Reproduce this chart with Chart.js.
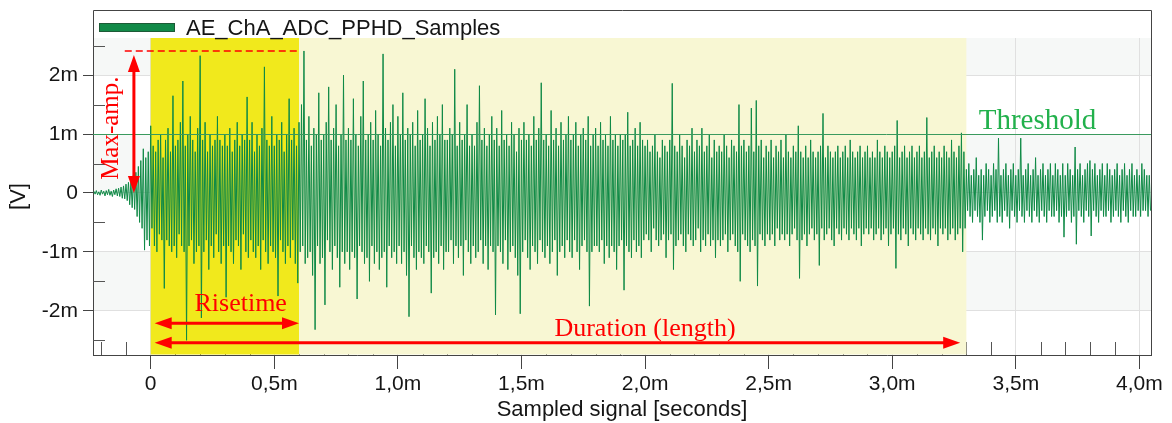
<!DOCTYPE html>
<html>
<head>
<meta charset="utf-8">
<script src="https://cdn.jsdelivr.net/npm/chart.js@4.4.1/dist/chart.umd.min.js"></script>
<style>
  html, body { margin: 0; padding: 0; background: #fff; }
</style>
</head>
<body>
<canvas id="chart" width="1172" height="423"></canvas>
<script>
// AE hit on channel A, values in mV, one sample every 0.005 ms
const sampleStepMs = 0.005;
const startMs = -0.23;

// -0.230 .. -0.005 ms
const preTrigger = [
  0.03,-0.02,0.04,-0.03,0.02,-0.04,0.05,-0.02,0.03,-0.05,0.04,-0.03,0.06,-0.04,0.03,-0.06,0.05,-0.03,0.07,-0.05,
  0.08,-0.06,0.1,-0.09,0.12,-0.1,0.15,-0.13,0.18,-0.2,0.22,-0.25,0.3,-0.28,0.35,-0.4,0.45,-0.5,0.55,-0.6,
  0.75,-0.97,0.6,-0.8,0.7,-0.9];
// 0.000 .. 0.595 ms
const riseTime = [
  1.14,-0.6,0.8,-0.9,0.7,-1.0,0.9,-0.7,1.0,-0.8,0.6,-1.62,0.9,-0.8,1.1,-0.9,0.7,-1.0,1.65,-0.9,
  0.8,-1.1,0.9,-0.7,1.2,-0.9,1.9,-1.0,0.8,-2.5,1.0,-0.9,1.3,-0.8,0.9,-1.2,0.7,-1.0,1.1,-0.9,
  2.33,-2.12,0.9,-1.0,1.2,-0.8,0.7,-1.3,1.0,-0.9,0.8,-1.1,0.9,-0.7,1.3,-1.0,0.9,-1.2,0.8,-0.9,
  1.0,-1.77,0.8,-0.9,1.1,-1.0,0.7,-1.2,0.9,-0.8,1.2,-0.9,0.8,-1.3,1.0,-0.7,0.9,-1.0,1.63,-1.1,
  0.9,-0.8,1.2,-1.0,0.7,-1.1,1.0,-0.9,0.8,-1.3,1.1,-0.8,2.14,-1.0,0.9,-1.2,0.8,-0.9,1.3,-1.0,
  0.8,-1.1,1.0,-1.75,0.9,-0.8,1.2,-1.0,0.7,-1.2,1.0,-0.9,1.6,-1.1,0.9,-0.8,1.1,-1.2,0.8,-1.53];
// 0.600 .. 1.195 ms
const decayEarly = [
  1.2,-1.0,1.5,-0.9,2.41,-1.2,0.9,-1.1,1.3,-1.0,0.8,-1.4,1.1,-2.32,1.0,-0.9,1.7,-1.2,0.9,-1.1,
  1.0,-1.9,1.2,-0.8,1.8,-1.0,0.9,-1.3,1.1,-0.9,1.5,-1.1,0.8,-1.6,1.0,-1.0,2.0,-1.2,0.9,-1.0,
  1.1,-1.3,0.9,-1.0,1.6,-1.1,1.0,-1.8,0.8,-0.9,1.3,-1.0,1.9,-1.2,0.9,-1.1,1.0,-1.5,1.2,-0.9,
  0.9,-1.2,1.4,-1.0,1.0,-1.3,0.8,-1.1,2.36,-1.0,1.1,-1.6,0.9,-0.9,1.2,-1.1,1.5,-1.0,0.8,-1.2,
  1.3,-0.9,1.0,-1.2,1.7,-1.0,0.9,-1.4,1.1,-2.1,1.0,-0.9,1.2,-1.1,0.8,-1.3,1.4,-1.0,0.9,-1.1,
  1.0,-1.2,1.6,-0.9,1.1,-1.0,0.8,-1.7,1.2,-1.1,0.9,-1.0,1.3,-1.2,1.0,-0.9,1.5,-1.3,0.9,-1.0];
// 1.200 .. 1.995 ms
const decayMid = [
  0.9,-1.0,1.1,-0.8,1.0,-1.2,2.1,-0.9,0.8,-1.1,1.2,-0.9,0.9,-1.4,1.0,-0.8,1.5,-1.0,0.8,-1.2,
  1.0,-0.9,0.8,-1.1,1.2,-1.0,1.82,-0.8,0.9,-1.2,1.1,-0.9,0.8,-1.3,1.0,-0.9,1.3,-1.0,0.9,-2.07,
  1.1,-0.9,0.8,-1.0,1.4,-1.2,0.9,-0.8,1.0,-1.3,0.8,-1.0,1.2,-0.9,1.0,-1.1,0.7,-1.4,1.1,-2.05,
  0.9,-1.0,1.2,-0.8,0.9,-1.1,1.0,-1.3,0.8,-0.9,1.3,-1.0,0.9,-1.2,1.1,-0.8,1.87,-1.0,0.9,-1.1,
  1.0,-0.9,0.8,-1.2,1.4,-1.0,0.9,-0.8,1.1,-1.4,0.8,-1.0,1.2,-0.9,0.9,-1.1,1.0,-0.8,1.3,-1.0,
  0.9,-1.1,1.0,-0.8,1.2,-1.0,0.8,-1.3,1.0,-0.9,1.1,-0.8,0.9,-1.0,1.3,-1.92,0.8,-1.0,1.0,-0.9,
  1.1,-0.9,0.8,-1.0,1.2,-0.8,0.9,-1.2,1.0,-0.9,0.8,-1.1,1.3,-0.9,0.9,-1.0,1.0,-1.3,0.8,-0.9,
  1.0,-0.8,0.9,-1.65,1.0,-0.9,1.37,-1.0,0.8,-1.1,0.9,-0.8,1.1,-1.0,0.8,-0.9,1.2,-1.1,0.9,-0.8];
// 2.000 .. 3.295 ms
const decayLate = [
  0.8,-0.7,0.9,-0.8,0.7,-1.0,0.8,-0.6,1.0,-0.8,0.7,-0.9,0.6,-0.8,0.9,-0.7,0.8,-1.1,0.7,-0.8,
  0.9,-0.7,1.86,-1.3,0.8,-0.9,0.7,-0.8,1.0,-0.7,0.8,-0.9,0.6,-1.0,0.9,-0.7,0.8,-0.8,1.1,-0.9,
  0.7,-0.8,0.9,-0.6,0.8,-1.0,1.1,-0.8,0.7,-0.9,0.8,-0.7,1.0,-0.9,0.6,-0.8,0.9,-1.1,0.7,-0.8,
  0.8,-0.9,0.7,-0.8,1.0,-0.7,0.8,-1.0,0.6,-0.8,0.9,-0.7,0.8,-0.9,0.7,-1.0,1.5,-1.5,0.8,-0.7,
  0.9,-0.8,0.7,-0.9,0.8,-1.0,1.44,-0.8,0.7,-0.9,1.57,-1.58,0.8,-0.7,0.9,-0.8,0.6,-0.9,0.8,-0.7,
  0.7,-0.8,0.9,-0.7,0.6,-0.9,0.8,-0.6,0.7,-0.8,0.9,-0.7,0.6,-0.8,1.0,-0.7,0.7,-0.9,0.6,-0.7,
  0.8,-0.6,0.7,-0.8,1.14,-1.45,0.7,-0.8,0.6,-0.7,0.8,-0.9,0.6,-0.7,0.9,-0.6,0.7,-0.8,0.6,-0.7,
  0.7,-1.23,0.8,-0.6,1.35,-0.8,0.6,-0.7,0.8,-0.6,0.7,-0.8,0.6,-0.9,0.7,-0.6,0.8,-0.7,0.6,-0.8,
  0.7,-0.6,0.8,-0.7,0.6,-0.8,0.9,-0.6,0.7,-0.7,0.6,-0.8,0.7,-0.6,0.8,-0.9,0.6,-0.7,0.7,-0.6,
  0.8,-0.7,0.6,-0.6,0.7,-0.8,0.6,-0.7,0.9,-0.6,0.7,-0.8,0.6,-0.7,0.8,-0.6,0.7,-0.9,0.6,-0.7,
  0.7,-0.6,0.8,-1.28,1.23,-0.7,0.6,-0.8,0.7,-0.6,0.8,-0.7,0.6,-0.9,0.7,-0.6,0.8,-0.7,0.6,-0.8,
  0.7,-0.6,0.8,-0.7,0.6,-0.8,0.7,-0.6,1.28,-0.7,0.6,-0.8,0.7,-0.6,0.8,-0.7,0.6,-0.9,0.7,-0.6,
  0.6,-0.7,0.8,-0.6,0.7,-0.8,0.6,-0.7,0.9,-0.6,0.7,-0.8,0.6,-0.7,0.8,-0.6,1.02,-1.0,0.7,-0.6];
// 3.300 .. 4.045 ms
const afterHit = [
  0.4,-0.3,0.5,-0.4,0.3,-0.5,0.4,-0.3,0.6,-0.4,0.3,-0.5,0.4,-0.8,0.3,-0.4,0.5,-0.3,0.4,-0.5,
  0.3,-0.4,0.5,-0.3,0.4,-0.5,0.93,-0.4,0.3,-0.5,0.4,-0.3,0.5,-0.4,0.3,-0.6,0.4,-0.3,0.5,-0.4,
  0.3,-0.5,0.4,-0.3,0.93,-0.4,0.3,-0.5,0.4,-0.3,0.5,-0.4,0.3,-0.5,0.4,-0.3,0.6,-0.4,0.3,-0.5,
  0.4,-0.3,0.5,-0.4,0.3,-0.5,0.4,-0.3,0.5,-0.4,0.3,-0.4,0.5,-0.3,0.4,-0.5,0.3,-0.4,0.5,-0.75,
  0.3,-0.4,0.5,-0.3,0.4,-0.5,0.3,-0.4,0.78,-0.87,0.4,-0.3,0.5,-0.4,0.3,-0.5,0.4,-0.3,0.5,-0.4,
  0.55,-0.73,0.4,-0.3,0.5,-0.4,0.3,-0.5,0.4,-0.3,0.5,-0.4,0.3,-0.4,0.5,-0.3,0.4,-0.5,0.3,-0.4,
  0.4,-0.3,0.5,-0.4,0.3,-0.5,0.4,-0.3,0.5,-0.4,0.3,-0.5,0.4,-0.3,0.5,-0.4,0.3,-0.4,0.4,-0.3,
  0.3,-0.4,0.5,-0.3,0.4,-0.3,0.3,-0.4,0.3,-0.3];

const xTickValues = [0, 0.5, 1.0, 1.5, 2.0, 2.5, 3.0, 3.5, 4.0];
const yTickValues = [-2, -1, 0, 1, 2];
const thresholdMV = 1;
const riseEndMs = 0.6;
const durationEndMs = 3.3;

const samples = [].concat(preTrigger, riseTime, decayEarly, decayMid, decayLate, afterHit);
const points = samples.map((v, i) => ({ x: +(startMs + i * sampleStepMs).toFixed(3), y: v }));
const maxAmp = Math.max(...samples);

Chart.defaults.font.family = '"Liberation Sans", Arial, sans-serif';
Chart.defaults.color = '#151515';

const RED = '#ff0000';
const SERIF = '"Liberation Serif", "Times New Roman", serif';

function arrow(ctx, x1, y1, x2, y2) {
  const head = 17, half = 6;
  const len = Math.hypot(x2 - x1, y2 - y1);
  ctx.save();
  ctx.translate(x1, y1);
  ctx.rotate(Math.atan2(y2 - y1, x2 - x1));
  ctx.strokeStyle = RED; ctx.fillStyle = RED; ctx.lineWidth = 3;
  ctx.beginPath(); ctx.moveTo(head - 2, 0); ctx.lineTo(len - head + 2, 0); ctx.stroke();
  ctx.beginPath(); ctx.moveTo(0, 0); ctx.lineTo(head, -half); ctx.lineTo(head, half); ctx.closePath(); ctx.fill();
  ctx.beginPath(); ctx.moveTo(len, 0); ctx.lineTo(len - head, -half); ctx.lineTo(len - head, half); ctx.closePath(); ctx.fill();
  ctx.restore();
}

const backdrop = {
  id: 'backdrop',
  beforeDraw(chart) {
    const { ctx, chartArea: a, scales: { y } } = chart;
    ctx.save();
    ctx.fillStyle = '#fff';
    ctx.fillRect(0, 0, chart.width, chart.height);
    ctx.fillStyle = '#f6f8f7';
    [[y.max, 2], [1, 0], [-1, -2]].forEach(([hi, lo]) => {
      const t = y.getPixelForValue(hi), b = y.getPixelForValue(lo);
      ctx.fillRect(a.left, t, a.right - a.left, b - t);
    });
    ctx.restore();
  },
  beforeDatasetsDraw(chart) {
    const { ctx, chartArea: a, scales: { x, y } } = chart;
    ctx.save();
    // minor ticks, inside the plot
    ctx.strokeStyle = '#555'; ctx.lineWidth = 1;
    ctx.beginPath();
    for (let k = -2; k <= 40; k++) {
      if (k % 5 === 0) continue;
      const px = Math.round(x.getPixelForValue(k / 10)) + 0.5;
      ctx.moveTo(px, a.bottom); ctx.lineTo(px, a.bottom - 13);
    }
    [-2.5, -1.5, -0.5, 0.5, 1.5, 2.5].forEach(v => {
      const py = Math.round(y.getPixelForValue(v)) + 0.5;
      ctx.moveTo(a.left, py); ctx.lineTo(a.left + 12, py);
    });
    ctx.stroke();
    // rise time and duration windows
    const x0 = x.getPixelForValue(0), x1 = x.getPixelForValue(riseEndMs), x2 = x.getPixelForValue(durationEndMs);
    ctx.fillStyle = '#f1e91c';
    ctx.fillRect(x0, a.top, x1 - x0, a.bottom - a.top - 0.5);
    ctx.fillStyle = '#f8f7d3';
    ctx.fillRect(x1, a.top, x2 - x1, a.bottom - a.top - 0.5);
    ctx.restore();
  },
  afterDatasetsDraw(chart) {
    const { ctx, chartArea: a, scales: { y } } = chart;
    const py = Math.round(y.getPixelForValue(thresholdMV)) + 0.5;
    ctx.save();
    ctx.strokeStyle = '#3a9a5e'; ctx.lineWidth = 1;
    ctx.beginPath(); ctx.moveTo(a.left, py); ctx.lineTo(a.right, py); ctx.stroke();
    ctx.restore();
  },
  afterDraw(chart) {
    const { ctx, chartArea: a, scales: { x, y } } = chart;
    ctx.save();
    // frame around plot + legend strip
    ctx.strokeStyle = '#444'; ctx.lineWidth = 1;
    ctx.beginPath();
    ctx.moveTo(a.left + 0.5, a.top); ctx.lineTo(a.left + 0.5, 10.5);
    ctx.lineTo(a.right + 0.5, 10.5); ctx.lineTo(a.right + 0.5, a.bottom);
    ctx.stroke();
    // legend
    ctx.fillStyle = '#128a48'; ctx.strokeStyle = '#1d5a36';
    ctx.fillRect(a.left + 6, 23, 76, 9);
    ctx.strokeRect(a.left + 6.5, 23.5, 75, 8);
    ctx.fillStyle = '#151515';
    ctx.font = '22px "Liberation Sans", Arial, sans-serif';
    ctx.textBaseline = 'alphabetic'; ctx.textAlign = 'left';
    ctx.fillText(chart.data.datasets[0].label, a.left + 93, 35);

    // max amplitude marker
    const ampY = y.getPixelForValue(maxAmp);
    ctx.strokeStyle = RED; ctx.lineWidth = 1.5; ctx.setLineDash([7, 4]);
    ctx.beginPath(); ctx.moveTo(x.getPixelForValue(-0.105), ampY); ctx.lineTo(x.getPixelForValue(riseEndMs), ampY); ctx.stroke();
    ctx.setLineDash([]);
    const ax = x.getPixelForValue(-0.068);
    arrow(ctx, ax, ampY + 4, ax, y.getPixelForValue(0));
    ctx.fillStyle = RED;
    ctx.font = '25px ' + SERIF;
    ctx.save();
    ctx.translate(x.getPixelForValue(-0.16), y.getPixelForValue(1.1));
    ctx.rotate(-Math.PI / 2);
    ctx.textAlign = 'center'; ctx.textBaseline = 'middle';
    ctx.fillText('Max-amp.', 0, 0);
    ctx.restore();

    // rise time and duration arrows
    const xs = x.getPixelForValue(0.016);
    arrow(ctx, xs, y.getPixelForValue(-2.21), x.getPixelForValue(riseEndMs), y.getPixelForValue(-2.21));
    arrow(ctx, xs, y.getPixelForValue(-2.54), x.getPixelForValue(3.275), y.getPixelForValue(-2.54));
    ctx.font = '26px ' + SERIF;
    ctx.textAlign = 'center'; ctx.textBaseline = 'alphabetic';
    ctx.fillText('Risetime', x.getPixelForValue(0.364), y.getPixelForValue(-2.0));
    ctx.fillText('Duration (length)', x.getPixelForValue(2.0), y.getPixelForValue(-2.435));

    // threshold label
    ctx.fillStyle = '#22b14c';
    ctx.font = '29px ' + SERIF;
    ctx.textAlign = 'left';
    ctx.fillText('Threshold', x.getPixelForValue(3.35), y.getPixelForValue(1.08));
    ctx.restore();
  }
};

new Chart(document.getElementById('chart'), {
  type: 'line',
  data: {
    datasets: [{
      label: 'AE_ChA_ADC_PPHD_Samples',
      data: points,
      borderColor: '#0f8a46',
      borderWidth: 1,
      pointRadius: 0,
      tension: 0,
      fill: false
    }]
  },
  options: {
    responsive: false,
    animation: false,
    devicePixelRatio: 1,
    layout: { padding: { top: 38, right: 21, bottom: 0, left: 0 } },
    plugins: { legend: { display: false }, tooltip: { enabled: false } },
    scales: {
      x: {
        type: 'linear',
        min: -0.2335,
        max: 4.047,
        afterBuildTicks: s => { s.ticks = xTickValues.map(v => ({ value: v })); },
        afterFit: s => { s.height = 68; },
        ticks: {
          autoSkip: false, maxRotation: 0, padding: 3,
          font: { size: 21 },
          callback: v => v === 0 ? '0' : v.toFixed(1).replace('.', ',') + 'm'
        },
        grid: { color: '#e0e0e0', tickColor: '#444', tickLength: 14 },
        border: { color: '#444' },
        title: { display: true, text: 'Sampled signal [seconds]', font: { size: 22 }, padding: { top: 0, bottom: 0 } }
      },
      y: {
        min: -2.75,
        max: 2.63,
        afterBuildTicks: s => { s.ticks = yTickValues.map(v => ({ value: v })); },
        afterFit: s => { s.width = 93; },
        ticks: {
          padding: 5,
          font: { size: 21 },
          callback: v => v === 0 ? '0' : v + 'm'
        },
        grid: { color: '#e0e0e0', tickColor: '#444', tickLength: 10 },
        border: { color: '#444' },
        title: { display: true, text: '[V]', font: { size: 22 }, padding: { top: 6, bottom: 0 } }
      }
    }
  },
  plugins: [backdrop]
});
</script>
</body>
</html>
